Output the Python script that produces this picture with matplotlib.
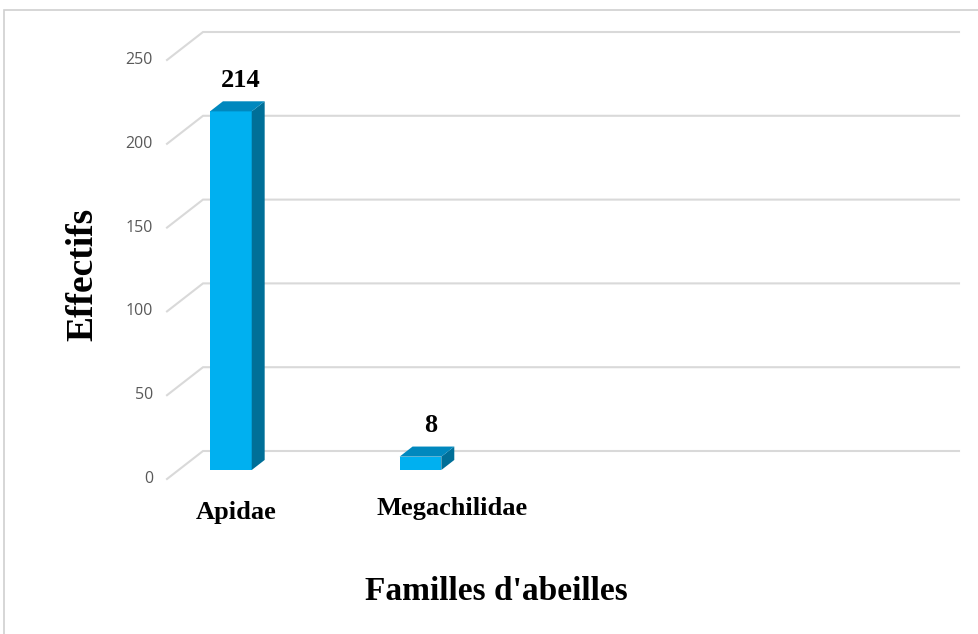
import matplotlib
matplotlib.use("Agg")
import matplotlib.pyplot as plt
from matplotlib.patches import Polygon, Rectangle

# ---- data ----
categories = ["Apidae", "Megachilidae"]
values = [214, 8]
yticks = [0, 50, 100, 150, 200, 250]
x_title = "Familles d'abeilles"
y_title = "Effectifs"

# ---- style ----
W, H, DPI = 979, 634, 100
front_col = "#00B0F0"
side_col = "#006F98"
top_col = "#0088BE"
grid_col = "#D9D9D9"
tick_col = "#595959"
serif = ["Liberation Serif", "DejaVu Serif"]

fig = plt.figure(figsize=(W / DPI, H / DPI), dpi=DPI)
fig.patch.set_facecolor("white")

# chart border
fig.patches.append(Rectangle((4 / W, -0.05), 1.1, 1 - 10 / H + 0.05,
                             transform=fig.transFigure, fill=False,
                             edgecolor="#D0D0D0", lw=1.2))

ax = fig.add_axes([167 / W, (H - 479) / H, 756 / W, 419 / H])
xlim = (-0.276, 3.711)
ylim = (0, 250)
ax.set_xlim(*xlim)
ax.set_ylim(*ylim)
ax.axis("off")

# oblique depth in data units (full depth of the floor)
px_x = (xlim[1] - xlim[0]) / 756.0
px_y = (ylim[1] - ylim[0]) / 419.0
DX = 36 * px_x
DY = 28 * px_y
d1, d2 = 0.32, 0.68   # bar front / back depth fractions
bw = 0.22

# gridlines: diagonal side + back wall
for t in yticks:
    ax.plot([xlim[0], xlim[0] + DX, xlim[1] + DX], [t, t + DY, t + DY],
            color=grid_col, lw=1.5, clip_on=False, zorder=1,
            solid_joinstyle="miter")
    ax.text(xlim[0] - 14 * px_x, t, str(t), ha="right", va="center",
            fontsize=11.5, color=tick_col, family=["Open Sans", "DejaVu Sans"])

# bars
for i, v in enumerate(values):
    x0 = i - bw / 2 + d1 * DX
    x1 = i + bw / 2 + d1 * DX
    y0 = d1 * DY
    ddx = (d2 - d1) * DX
    ddy = (d2 - d1) * DY
    ax.bar(i + d1 * DX, v, width=bw, bottom=y0, color=front_col,
           edgecolor="none", zorder=3, clip_on=False)
    side = Polygon([(x1, y0), (x1 + ddx, y0 + ddy), (x1 + ddx, y0 + v + ddy),
                    (x1, y0 + v)], closed=True, facecolor=side_col,
                   edgecolor="none", zorder=3, clip_on=False)
    top = Polygon([(x0, y0 + v), (x1, y0 + v), (x1 + ddx, y0 + v + ddy),
                   (x0 + ddx, y0 + v + ddy)], closed=True, facecolor=top_col,
                  edgecolor="none", zorder=4, clip_on=False)
    ax.add_patch(side)
    ax.add_patch(top)
    ax.annotate(str(v), xy=(i + (d1 + d2) / 2 * DX + 0.02, y0 + v + ddy),
                xytext=(0, 7), textcoords="offset points", ha="center",
                va="bottom", fontsize=19, fontweight="bold", family=serif,
                zorder=5, annotation_clip=False)

# category labels
label_nudge = [0.09, 0.23]
label_dy_px = [-34, -29]
for i, c in enumerate(categories):
    ax.text(i + label_nudge[i], label_dy_px[i] * px_y, c,
            ha="center", va="center", fontsize=19, fontweight="bold",
            family=serif, clip_on=False)

fig.text(496 / W, 1 - 592 / H, x_title, ha="center", va="center",
         fontsize=24, fontweight="bold", family=serif)
fig.text(83 / W, 1 - 274 / H, y_title, ha="center", va="center",
         rotation=90, fontsize=27, fontweight="bold", family=serif)

fig.savefig("out.png", dpi=DPI, facecolor="white")
